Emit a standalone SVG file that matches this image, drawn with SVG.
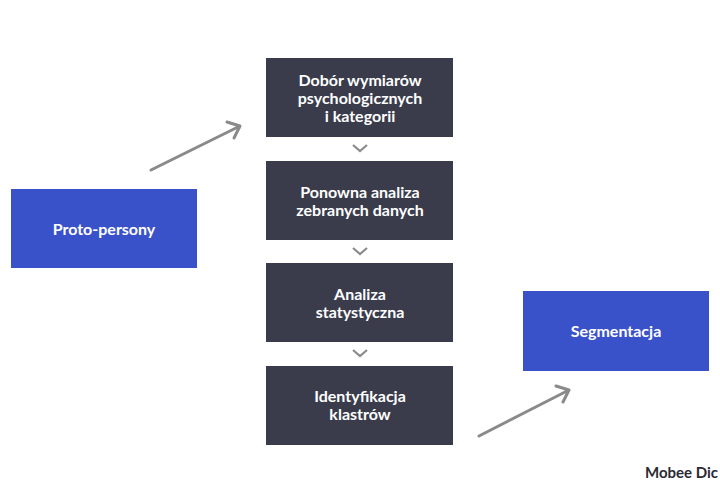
<svg xmlns="http://www.w3.org/2000/svg" width="720" height="500" viewBox="0 0 720 500">
<style>
.d{fill:#3a3c4c}.b{fill:#3a52c9}
text{font-family:"Lato","Liberation Sans",sans-serif;font-weight:bold;font-size:16px;fill:#fff;text-anchor:middle}
.c{fill:none;stroke:#8a8a8a;stroke-width:3;stroke-linecap:round;stroke-linejoin:round}
.ch{fill:none;stroke:#8a8a8a;stroke-width:2.2}
</style>
<rect width="720" height="500" fill="#fff"/>
<g id="n1"><rect class="d" x="266" y="58" width="187" height="79"/><text x="360" y="86">Dobór wymiarów</text><text x="360" y="104">psychologicznych</text><text x="360" y="122">i kategorii</text></g>
<g id="n2"><rect class="d" x="266" y="161" width="187" height="79"/><text x="360" y="198">Ponowna analiza</text><text x="360" y="216">zebranych danych</text></g>
<g id="n3"><rect class="d" x="266" y="263" width="187" height="79"/><text x="360" y="300">Analiza</text><text x="360" y="318">statystyczna</text></g>
<g id="n4"><rect class="d" x="266" y="366" width="187" height="79"/><text x="360" y="402">Identyfikacja</text><text x="360" y="420">klastrów</text></g>
<g id="proto"><rect class="b" x="11" y="189" width="186" height="79"/><text x="104" y="235">Proto-persony</text></g>
<g id="seg"><rect class="b" x="523" y="291" width="186" height="80"/><text x="616" y="337">Segmentacja</text></g>
<g id="connectors">
<path class="c" d="M151 170 L240 126 M227 122 L240 126 L234 138"/>
<path class="c" d="M479 436 L569 390 M556 386 L569 390 L563 402"/>
<path class="ch" d="M353 145 L360 151 L367 145"/>
<path class="ch" d="M353 248 L360 254 L367 248"/>
<path class="ch" d="M353 350 L360 356 L367 350"/>
</g>
<text x="645" y="478" style="fill:#2a2a33;text-anchor:start;font-size:15px">Mobee Dic</text>
</svg>
